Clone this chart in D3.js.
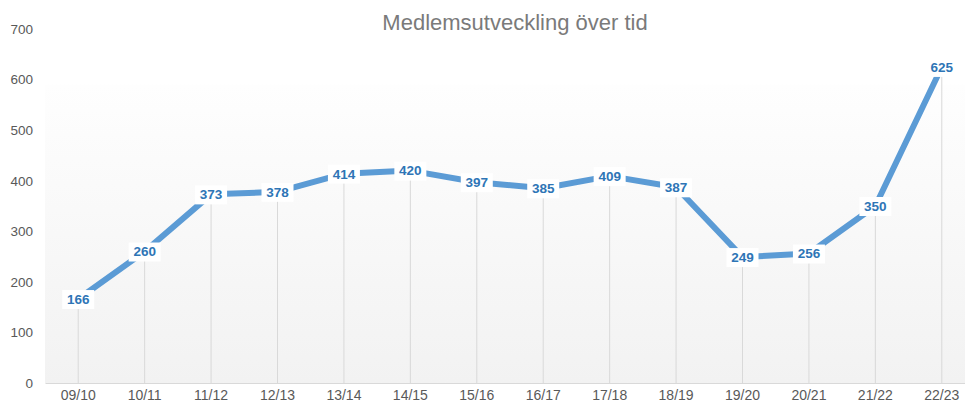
<!DOCTYPE html>
<html>
<head>
<meta charset="utf-8">
<script src="https://cdn.jsdelivr.net/npm/d3@7"></script>
<style>
  body { margin: 0; background: #fff; }
  svg text { font-family: "Liberation Sans", Arial, sans-serif; }
</style>
</head>
<body>
<div id="chart"></div>
<script>
// data
var seasons = ["09/10", "10/11", "11/12", "12/13", "13/14", "14/15", "15/16", "16/17", "17/18", "18/19", "19/20", "20/21", "21/22", "22/23"];
var members = [166, 260, 373, 378, 414, 420, 397, 385, 409, 387, 249, 256, 350, 625];
var yTicks = [0, 100, 200, 300, 400, 500, 600, 700];

var W = 965, H = 404;
var margin = {top: 29, right: -10, bottom: 21, left: 45};
var width = W - margin.left - margin.right,
    height = H - margin.top - margin.bottom;

var svg = d3.select("#chart").append("svg")
    .attr("width", W)
    .attr("height", H);

// title
svg.append("text")
  .attr("x", 515).attr("y", 30)
  .attr("text-anchor", "middle")
  .style("font-size", "22px")
  .attr("fill", "#7a7a7a")
  .text("Medlemsutveckling över tid");

var g = svg.append("g")
  .attr("transform", "translate(" + margin.left + "," + margin.top + ")");

var x = d3.scaleBand().domain(seasons).range([0, width]);
var y = d3.scaleLinear().domain([0, 700]).range([height, 0]);

// background gradient
var grad = svg.append("defs").append("linearGradient")
  .attr("id", "bg").attr("x1", 0).attr("y1", 0).attr("x2", 0).attr("y2", 1);
grad.append("stop").attr("offset", "0%").attr("stop-color", "#fefefe");
grad.append("stop").attr("offset", "100%").attr("stop-color", "#f2f2f2");

g.append("rect")
  .attr("x", 0).attr("y", y(590))
  .attr("width", width).attr("height", height - y(590))
  .attr("fill", "url(#bg)");

// y axis labels
g.append("g")
  .call(d3.axisLeft(y).tickValues(yTicks).tickSize(0).tickPadding(12))
  .call(function(a) { a.select(".domain").remove(); })
  .selectAll("text")
  .style("font-size", "13.5px")
  .attr("fill", "#595959");

// x axis
var xa = g.append("g")
  .attr("transform", "translate(0," + height + ")")
  .call(d3.axisBottom(x).tickSize(0).tickPadding(7));
xa.select(".domain").attr("stroke", "#d9d9d9");
xa.selectAll("text")
  .style("font-size", "14px")
  .attr("fill", "#595959");

// drop lines
g.selectAll(".drop")
  .data(members)
  .enter().append("line")
  .attr("x1", function(d, i) { return x(seasons[i]) + x.bandwidth() / 2; })
  .attr("x2", function(d, i) { return x(seasons[i]) + x.bandwidth() / 2; })
  .attr("y1", function(d) { return y(d); })
  .attr("y2", height)
  .attr("stroke", "#d9d9d9")
  .attr("stroke-width", 1);

// line
var line = d3.line()
  .x(function(d, i) { return x(seasons[i]) + x.bandwidth() / 2; })
  .y(function(d) { return y(d); });

g.append("path")
  .datum(members)
  .attr("d", line)
  .attr("fill", "none")
  .attr("stroke", "#5b9bd5")
  .attr("stroke-width", 6)
  .attr("stroke-linejoin", "round");

// data labels with white boxes
var lbl = g.selectAll(".lbl")
  .data(members)
  .enter().append("g")
  .attr("transform", function(d, i) {
    return "translate(" + (x(seasons[i]) + x.bandwidth() / 2) + "," + y(d) + ")";
  });

lbl.append("rect")
  .attr("x", -16).attr("y", -9)
  .attr("width", 32).attr("height", 19)
  .attr("fill", "#fff");

lbl.append("text")
  .attr("text-anchor", "middle")
  .attr("dy", "0.36em")
  .style("font-size", "13.5px")
  .style("font-weight", "bold")
  .attr("fill", "#2e75b6")
  .text(function(d) { return d; });
</script>
</body>
</html>
